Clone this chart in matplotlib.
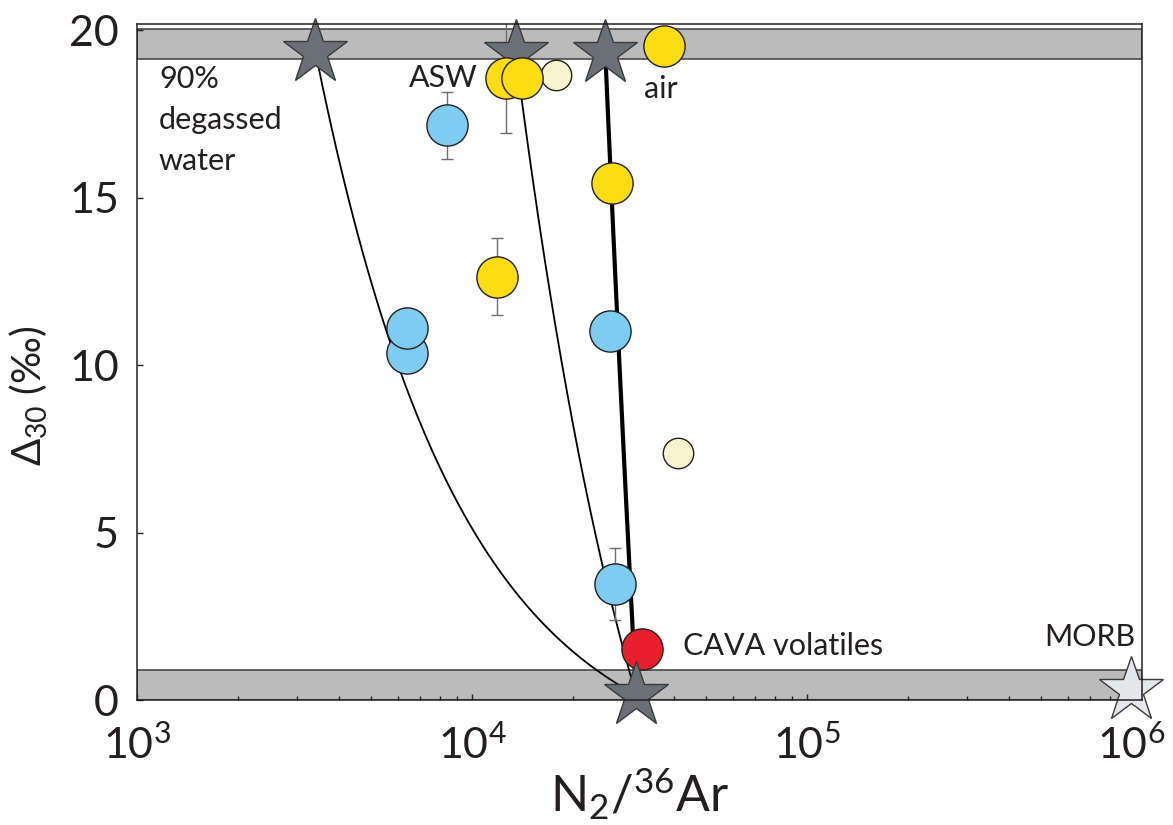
import numpy as np
import matplotlib
matplotlib.use("Agg")
import matplotlib.pyplot as plt
import matplotlib.transforms as mtransforms
from matplotlib.ticker import LogLocator, NullFormatter

plt.rcParams["font.family"] = ["Lato", "DejaVu Sans"]
plt.rcParams["text.color"] = "#231f20"

# ---- data -------------------------------------------------------------
# endmembers (N2/36Ar, Δ30 in ‰)
endmember_names = ["degassed water", "ASW", "air", "CAVA end"]
endmember_x = [3410, 13500, 25000, 30900]
endmember_y = [19.34, 19.31, 19.31, 0.15]
morb_x = [9.3e5]
morb_y = [0.30]

# shaded reference ranges of Δ30
band_lo = [0.0, 19.15]
band_hi = [0.887, 20.04]

# samples
blue_x = [8420, 6400, 6400, 25800, 26700]
blue_y = [17.16, 10.36, 11.10, 11.02, 3.46]
blue_err = [1.0, 0.0, 0.0, 0.0, 1.07]

yellow_x = [11880, 12630, 14060, 37400, 26200]
yellow_y = [12.64, 18.58, 18.58, 19.53, 15.43]
yellow_err = [1.15, 1.65, 0.0, 0.0, 0.0]

pale_x = [17800, 41200]
pale_y = [18.66, 7.38]

cava_x = [32170]
cava_y = [1.51]

# ---- colours ----------------------------------------------------------
INK = "#231f20"
STAR = "#6b7077"
MORB = "#e6e7eb"
BAND = "#bbbbbb"
BLUE = "#7ecdf0"
YELLOW = "#fcdc12"
PALE = "#f7f3cd"
RED = "#e8202e"
ERR = "#6d6e71"


def mixing_curve(xa, ya, xb, yb, n=300):
    """Binary mixing in N2/36Ar vs Δ30 space (mixing on an 36Ar basis)."""
    f = np.linspace(0.0, 1.0, n)
    x = f * xa + (1 - f) * xb
    y = (f * xa * ya + (1 - f) * xb * yb) / x
    return x, y


W, H = 1173, 825
fig = plt.figure(figsize=(W / 100, H / 100), dpi=100)
ax = fig.add_axes([137 / W, 1 - 700 / H, (1142 - 137) / W, (700 - 24) / H])

ax.set_xscale("log")
ax.set_xlim(1e3, 1e6)
ax.set_ylim(0, 20.18)

# reference bands
for lo, hi in zip(band_lo, band_hi):
    ax.axhspan(lo, hi, facecolor=BAND, edgecolor="#3d3d3d", lw=1.1, zorder=1)

# mixing lines towards the CAVA endmember
xe, ye = endmember_x[3], endmember_y[3]
for i, lw in zip(range(3), [1.3, 1.3, 3.0]):
    mx, my = mixing_curve(endmember_x[i], endmember_y[i], xe, ye)
    ax.plot(mx, my, color="black", lw=lw, zorder=2, solid_capstyle="butt")


# error bars
def draw_err(xs, ys, es):
    for x, y, e in zip(xs, ys, es):
        if e > 0:
            ax.errorbar([x], [y], yerr=[e], fmt="none", ecolor=ERR,
                        elinewidth=1.0, capsize=4, capthick=1.0, zorder=3)


draw_err(blue_x, blue_y, blue_err)
draw_err(yellow_x, yellow_y, yellow_err)

# CAVA volatiles sits beneath the endmember star
ax.scatter(cava_x, cava_y, s=880, facecolor=RED, edgecolor=INK, lw=1.0, zorder=4)

# endmember stars
ax.plot(endmember_x, endmember_y, ls="none", marker="*", markersize=49,
        mfc=STAR, mec="#3a3a3a", mew=1.0, zorder=5, clip_on=False)
ax.plot(morb_x, morb_y, ls="none", marker="*", markersize=49,
        mfc=MORB, mec="#3a3a3a", mew=1.0, zorder=5, clip_on=False)

# samples
ax.scatter(blue_x, blue_y, s=880, facecolor=BLUE, edgecolor=INK, lw=1.0, zorder=6)
ax.scatter(pale_x, pale_y, s=480, facecolor=PALE, edgecolor=INK, lw=1.0, zorder=6)
ax.scatter(yellow_x, yellow_y, s=880, facecolor=YELLOW, edgecolor=INK, lw=1.0, zorder=6)

# annotations
ann = dict(fontsize=22, color=INK, zorder=7)
for line, y in zip(["90%", "degassed", "water"], [18.27, 17.04, 15.82]):
    ax.text(1163, y, line, ha="left", va="baseline", **ann)
ax.text(10400, 18.30, "ASW", ha="right", va="baseline", **ann)
ax.text(32600, 17.97, "air", ha="left", va="baseline", **ann)
ax.text(42600, 1.34, "CAVA volatiles", ha="left", va="baseline", **ann)
ax.text(9.53e5, 1.62, "MORB", ha="right", va="baseline", **ann)

# axes styling
for sp in ax.spines.values():
    sp.set_color(INK)
    sp.set_linewidth(1.1)
    sp.set_zorder(8)

ax.set_yticks([0, 5, 10, 15, 20])
ax.xaxis.set_major_locator(LogLocator(base=10, numticks=10))
ax.xaxis.set_minor_locator(LogLocator(base=10, subs=np.arange(2, 10), numticks=20))
ax.xaxis.set_minor_formatter(NullFormatter())
ax.tick_params(which="both", direction="in", top=False, right=False,
               color=INK, width=1.0, labelcolor=INK, zorder=8)
ax.tick_params(which="major", length=4.5, labelsize=31)
ax.tick_params(which="minor", length=3.0)
ax.tick_params(axis="y", pad=13)
ax.tick_params(axis="x", pad=17)

# pull the rightmost decade label back inside the canvas
ticks = ax.xaxis.get_major_ticks()
shift = mtransforms.ScaledTranslation(-11 / 100, 0, fig.dpi_scale_trans)
for tk, loc in zip(ticks, ax.xaxis.get_majorticklocs()):
    if np.isclose(loc, 1e6):
        tk.label1.set_transform(tk.label1.get_transform() + shift)

ax.set_xlabel(r"N$\mathregular{_2}$/$\mathregular{^{36}}$Ar", fontsize=36, color=INK,
              va="baseline")
ax.xaxis.set_label_coords(0.5, -(812 - 700) / 676)
ax.set_ylabel(r"Δ$\mathregular{_{30}}$ (‰)", fontsize=29, color=INK)
ax.yaxis.set_label_coords(-0.087, 0.45)

fig.savefig("out.png", dpi=100)
